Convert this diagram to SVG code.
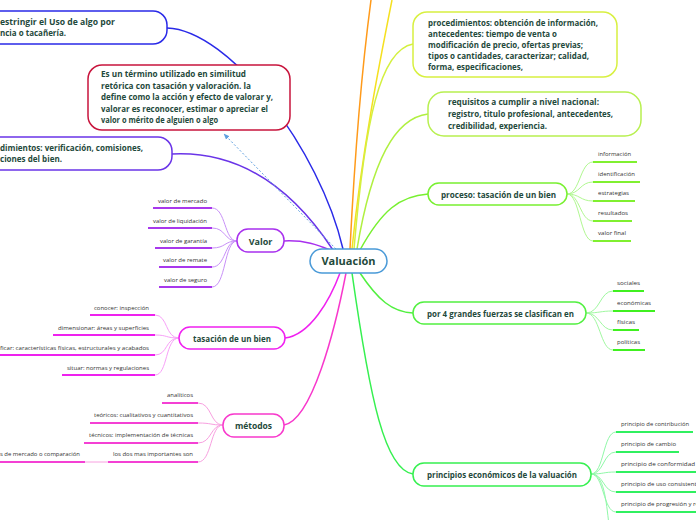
<svg xmlns="http://www.w3.org/2000/svg" width="696" height="520" viewBox="0 0 696 520">
<defs>
<style>
.nt{font-family:"Open Sans","Noto Sans",sans-serif;font-weight:bold;fill:#1f4a3c}
.lt{font-family:"Open Sans","Noto Sans",sans-serif;font-size:6px;fill:#333333}
.box{fill:#ffffff;stroke-width:1.5}
.mc{fill:none;stroke-width:1.5}
.lc{fill:none;stroke-width:1}
.ul{fill:none;stroke-width:2}
</style>
<marker id="arr" viewBox="0 0 10 10" refX="9" refY="5" markerWidth="6" markerHeight="6" orient="auto-start-reverse">
<path d="M0,1 L10,5 L0,9 z" fill="#5fa0e0"/>
</marker>
</defs>
<rect width="696" height="520" fill="#ffffff"/>

<g id="connectors">
<path class="mc" stroke="#ff9a1a" d="M350,249 C355,150 363,60 371,0"/>
<path class="mc" stroke="#f5e020" d="M352,249 C362,150 380,60 392,0"/>
<path class="mc" stroke="#2a2ae8" d="M167,28 C230,30 320,150 343,249"/>
<path class="mc" stroke="#6a34e8" d="M172,154 C250,150 300,200 333,250"/>
<path class="mc" stroke="#a830ee" d="M284,241 C305,240 318,245 330,250"/>
<path class="mc" stroke="#f020f0" d="M285,338 C310,335 330,300 340,273"/>
<path class="mc" stroke="#f838cc" d="M284,425 C312,420 335,330 346,273"/>
<path class="mc" stroke="#d4f040" d="M354,249 C365,120 380,50 413,44"/>
<path class="mc" stroke="#b0f040" d="M357,249 C372,160 395,118 428,114"/>
<path class="mc" stroke="#78f030" d="M360,250 C382,210 400,196 428,194"/>
<path class="mc" stroke="#52f040" d="M360,273 C378,300 392,312 413,313"/>
<path class="mc" stroke="#36f050" d="M352,273 C370,400 385,470 413,474"/>
<path fill="none" stroke="#5fa0e0" stroke-width="1" stroke-dasharray="2,2" d="M336,249 L224,134" marker-end="url(#arr)"/>

<g stroke="#c890f8">
<path class="lc" d="M237,241 C224,241 226,208 212,208"/>
<path class="lc" d="M237,241 C224,241 226,228 212,228"/>
<path class="lc" d="M237,241 C224,241 226,248 212,248"/>
<path class="lc" d="M237,241 C224,241 226,267 212,267"/>
<path class="lc" d="M237,241 C224,241 226,287 212,287"/>
</g>
<g stroke="#a838ec">
<path class="ul" d="M153,208 H212"/>
<path class="ul" d="M148,228 H212"/>
<path class="ul" d="M155,248 H212"/>
<path class="ul" d="M159,267 H212"/>
<path class="ul" d="M159,287 H212"/>
</g>
<g stroke="#f8a0f8">
<path class="lc" d="M179,338 C165,338 168,315 155,315"/>
<path class="lc" d="M179,338 C165,338 168,335 155,335"/>
<path class="lc" d="M179,338 C165,338 168,355 155,355"/>
<path class="lc" d="M179,338 C165,338 168,375 155,375"/>
</g>
<g stroke="#ee22ee">
<path class="ul" d="M90,315 H155"/>
<path class="ul" d="M53,335 H155"/>
<path class="ul" d="M0,355 H155"/>
<path class="ul" d="M62,375 H155"/>
</g>
<g stroke="#f8a0e0">
<path class="lc" d="M223,425 C210,425 212,403 198,403"/>
<path class="lc" d="M223,425 C210,425 212,423 198,423"/>
<path class="lc" d="M223,425 C210,425 212,443 198,443"/>
<path class="lc" d="M223,425 C210,425 212,462 198,462"/>
<path class="lc" d="M108,462 H85"/>
</g>
<g stroke="#f440d4">
<path class="ul" d="M162,403 H198"/>
<path class="ul" d="M90,423 H198"/>
<path class="ul" d="M84,443 H198"/>
<path class="ul" d="M108,462 H198"/>
<path class="ul" d="M0,462 H85"/>
</g>
<g stroke="#b0f890">
<path class="lc" d="M567,194 C580,194 580,162 593,162"/>
<path class="lc" d="M567,194 C580,194 580,182 593,182"/>
<path class="lc" d="M567,194 C580,194 580,201 593,201"/>
<path class="lc" d="M567,194 C580,194 580,221 593,221"/>
<path class="lc" d="M567,194 C580,194 580,241 593,241"/>
</g>
<g stroke="#80f030">
<path class="ul" d="M593,162 H637"/>
<path class="ul" d="M593,182 H640"/>
<path class="ul" d="M593,201 H635"/>
<path class="ul" d="M593,221 H632"/>
<path class="ul" d="M593,241 H631"/>
</g>
<g stroke="#a0f8a0">
<path class="lc" d="M586,313 C600,313 600,291 613,291"/>
<path class="lc" d="M586,313 C600,313 600,311 613,311"/>
<path class="lc" d="M586,313 C600,313 600,330 613,330"/>
<path class="lc" d="M586,313 C600,313 600,350 613,350"/>
</g>
<g stroke="#40f020">
<path class="ul" d="M613,291 H644"/>
<path class="ul" d="M613,311 H655"/>
<path class="ul" d="M613,330 H639"/>
<path class="ul" d="M613,350 H645"/>
</g>
<g stroke="#90f8a8">
<path class="lc" d="M591,474 C604,474 603,432 616,432"/>
<path class="lc" d="M591,474 C604,474 603,452 616,452"/>
<path class="lc" d="M591,474 C604,474 603,472 616,472"/>
<path class="lc" d="M591,474 C604,474 603,492 616,492"/>
<path class="lc" d="M591,474 C604,474 603,512 616,512"/>
<path class="lc" d="M591,474 C604,474 606,500 609,525"/>
</g>
<g stroke="#30f060">
<path class="ul" d="M616,432 H693"/>
<path class="ul" d="M616,452 H679"/>
<path class="ul" d="M616,472 H698"/>
<path class="ul" d="M616,492 H698"/>
<path class="ul" d="M616,512 H698"/>
</g>
</g>

<g id="node-restringir">
<rect class="box" stroke="#2a2ae8" x="-20" y="11" width="187" height="33" rx="14"/>
<text class="nt" font-size="8" x="0" y="25" textLength="115" lengthAdjust="spacingAndGlyphs">estringir el Uso de algo por</text>
<text class="nt" font-size="8" x="0" y="36" textLength="66" lengthAdjust="spacingAndGlyphs">ncia o tacañería.</text>
</g>

<g id="node-definicion">
<rect class="box" stroke="#c8143c" x="88" y="65" width="202" height="65" rx="14"/>
<text class="nt" font-size="8" x="101" y="77" textLength="145" lengthAdjust="spacingAndGlyphs">Es un término utilizado en similitud</text>
<text class="nt" font-size="8" x="101" y="88.5" textLength="150" lengthAdjust="spacingAndGlyphs">retórica con tasación y valoración.  la</text>
<text class="nt" font-size="8" x="101" y="100" textLength="172" lengthAdjust="spacingAndGlyphs">define como la acción y efecto de valorar y,</text>
<text class="nt" font-size="8" x="101" y="111.5" textLength="167" lengthAdjust="spacingAndGlyphs">valorar es reconocer, estimar o apreciar el</text>
<text class="nt" font-size="8" x="101" y="123" textLength="117" lengthAdjust="spacingAndGlyphs">valor o mérito de alguien o algo</text>
</g>

<g id="node-procedimientos-verif">
<rect class="box" stroke="#6a34e8" x="-20" y="137" width="192" height="33" rx="14"/>
<text class="nt" font-size="8" x="0" y="151" textLength="143" lengthAdjust="spacingAndGlyphs">dimientos: verificación, comisiones,</text>
<text class="nt" font-size="8" x="0" y="162" textLength="62" lengthAdjust="spacingAndGlyphs">ciones del bien.</text>
</g>

<g id="node-valor">
<rect class="box" stroke="#a830ee" x="237" y="229" width="47" height="23" rx="11"/>
<text class="nt" font-size="9" x="260.5" y="244.5" text-anchor="middle">Valor</text>
<g class="lt" text-anchor="end">
<text x="207" y="203" textLength="49" lengthAdjust="spacingAndGlyphs">valor de mercado</text>
<text x="207" y="223" textLength="54" lengthAdjust="spacingAndGlyphs">valor de liquidación</text>
<text x="207" y="243" textLength="47" lengthAdjust="spacingAndGlyphs">valor de garantía</text>
<text x="207" y="262" textLength="44" lengthAdjust="spacingAndGlyphs">valor de remate</text>
<text x="207" y="282" textLength="43" lengthAdjust="spacingAndGlyphs">valor de seguro</text>
</g>
</g>

<g id="node-tasacion">
<rect class="box" stroke="#f020f0" x="179" y="327" width="106" height="22" rx="11"/>
<text class="nt" font-size="8.5" x="193" y="341.5" textLength="78" lengthAdjust="spacingAndGlyphs">tasación de un bien</text>
<g class="lt" text-anchor="end">
<text x="149" y="310" textLength="55" lengthAdjust="spacingAndGlyphs">conocer: inspección</text>
<text x="149" y="330" textLength="91" lengthAdjust="spacingAndGlyphs">dimensionar: áreas y superficies</text>
<text x="149" y="350" textLength="149" lengthAdjust="spacingAndGlyphs">ficar: características físicas, estructurales y acabados</text>
<text x="149" y="370" textLength="82" lengthAdjust="spacingAndGlyphs">situar: normas y regulaciones</text>
</g>
</g>

<g id="node-metodos">
<rect class="box" stroke="#f838cc" x="223" y="414" width="61" height="23" rx="11"/>
<text class="nt" font-size="8.5" x="253.5" y="428.5" text-anchor="middle">métodos</text>
<g class="lt" text-anchor="end">
<text x="193" y="397" textLength="26" lengthAdjust="spacingAndGlyphs">analíticos</text>
<text x="193" y="417" textLength="99" lengthAdjust="spacingAndGlyphs">teóricos: cualitativos y cuantitativos</text>
<text x="193" y="437" textLength="104" lengthAdjust="spacingAndGlyphs">técnicos: implementación de técnicas</text>
<text x="193" y="456" textLength="80" lengthAdjust="spacingAndGlyphs">los dos mas importantes son</text>
<text x="80" y="456" textLength="80" lengthAdjust="spacingAndGlyphs">s de mercado o comparación</text>
</g>
</g>

<g id="node-valuacion">
<rect class="box" stroke="#4a9ad8" x="310" y="249" width="77" height="24" rx="12"/>
<text class="nt" font-size="11" x="348.5" y="265" text-anchor="middle">Valuación</text>
</g>

<g id="node-procedimientos-obt">
<rect class="box" stroke="#d8f040" x="413" y="12" width="204" height="65" rx="14"/>
<text class="nt" font-size="8" x="428" y="26" textLength="170" lengthAdjust="spacingAndGlyphs">procedimientos: obtención de información,</text>
<text class="nt" font-size="8" x="428" y="37" textLength="129" lengthAdjust="spacingAndGlyphs">antecedentes: tiempo de venta o</text>
<text class="nt" font-size="8" x="428" y="48" textLength="155" lengthAdjust="spacingAndGlyphs">modificación de precio, ofertas previas;</text>
<text class="nt" font-size="8" x="428" y="58.5" textLength="161" lengthAdjust="spacingAndGlyphs">tipos o cantidades, caracterizar; calidad,</text>
<text class="nt" font-size="8" x="428" y="69.5" textLength="95" lengthAdjust="spacingAndGlyphs">forma, especificaciones,</text>
</g>

<g id="node-requisitos">
<rect class="box" stroke="#b8f050" x="428" y="92" width="213" height="44" rx="16"/>
<text class="nt" font-size="8" x="448" y="105" textLength="151" lengthAdjust="spacingAndGlyphs">requisitos a cumplir a nivel nacional:</text>
<text class="nt" font-size="8" x="448" y="117" textLength="165" lengthAdjust="spacingAndGlyphs">registro, titulo profesional, antecedentes,</text>
<text class="nt" font-size="8" x="448" y="128.5" textLength="99" lengthAdjust="spacingAndGlyphs">credibilidad, experiencia.</text>
</g>

<g id="node-proceso">
<rect class="box" stroke="#78f030" x="428" y="183" width="139" height="22" rx="11"/>
<text class="nt" font-size="8.5" x="441" y="197.5" textLength="115" lengthAdjust="spacingAndGlyphs">proceso: tasación de un bien</text>
<g class="lt">
<text x="598" y="156" textLength="33" lengthAdjust="spacingAndGlyphs">información</text>
<text x="598" y="176" textLength="37" lengthAdjust="spacingAndGlyphs">identificación</text>
<text x="598" y="195" textLength="31" lengthAdjust="spacingAndGlyphs">estrategias</text>
<text x="598" y="215" textLength="30" lengthAdjust="spacingAndGlyphs">resultados</text>
<text x="598" y="235" textLength="28" lengthAdjust="spacingAndGlyphs">valor final</text>
</g>
</g>

<g id="node-fuerzas">
<rect class="box" stroke="#52f040" x="413" y="302" width="173" height="22" rx="11"/>
<text class="nt" font-size="8.5" x="427" y="316.5" textLength="147" lengthAdjust="spacingAndGlyphs">por 4 grandes fuerzas se clasifican en</text>
<g class="lt">
<text x="617" y="285" textLength="23" lengthAdjust="spacingAndGlyphs">sociales</text>
<text x="617" y="305" textLength="34" lengthAdjust="spacingAndGlyphs">económicas</text>
<text x="617" y="324" textLength="18" lengthAdjust="spacingAndGlyphs">físicas</text>
<text x="617" y="344" textLength="23" lengthAdjust="spacingAndGlyphs">políticas</text>
</g>
</g>

<g id="node-principios">
<rect class="box" stroke="#36f050" x="413" y="463" width="178" height="23" rx="11"/>
<text class="nt" font-size="8.5" x="427" y="477.5" textLength="150" lengthAdjust="spacingAndGlyphs">principios económicos de la valuación</text>
<g class="lt">
<text x="621" y="426" textLength="68" lengthAdjust="spacingAndGlyphs">principio de contribución</text>
<text x="621" y="446" textLength="55" lengthAdjust="spacingAndGlyphs">principio de cambio</text>
<text x="621" y="466" textLength="74" lengthAdjust="spacingAndGlyphs">principio de conformidad</text>
<text x="621" y="486" textLength="79" lengthAdjust="spacingAndGlyphs">principio de uso consistente</text>
<text x="621" y="506" textLength="99" lengthAdjust="spacingAndGlyphs">principio de progresión y regresión</text>
</g>
</g>
</svg>
